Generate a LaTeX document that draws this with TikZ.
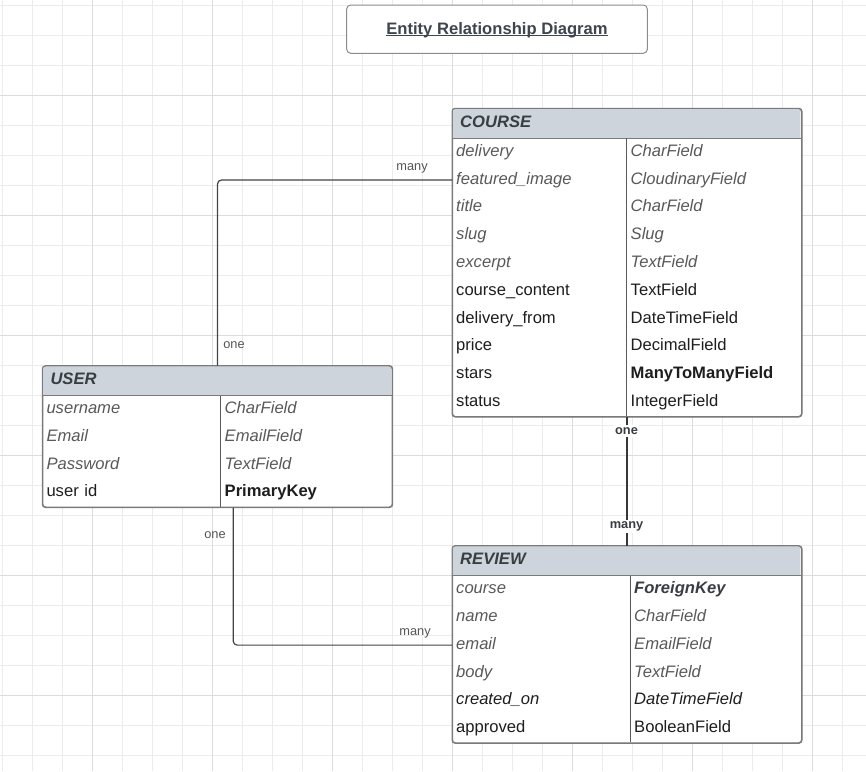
\documentclass[tikz,border=0pt]{standalone}
\usepackage{fontspec}
\setmainfont{Liberation Sans}
\usetikzlibrary{calc}
\definecolor{gridminor}{HTML}{ECECEC}
\definecolor{gridmajor}{HTML}{DCDCDC}
\definecolor{tblborder}{HTML}{7A7A7A}
\definecolor{divline}{HTML}{5A5A5A}
\definecolor{hdrfill}{HTML}{CED4DB}
\definecolor{hdrtext}{HTML}{393D44}
\definecolor{graytext}{HTML}{595959}
\definecolor{blacktext}{HTML}{1E1E1E}
\definecolor{conncol}{HTML}{444444}
\definecolor{lblgray}{HTML}{555555}
\definecolor{titlecol}{HTML}{3F454E}
\definecolor{titleborder}{HTML}{8C8C8C}
\tikzset{
  gminor/.style={draw=gridminor, line width=0.9pt},
  gmajor/.style={draw=gridmajor, line width=0.9pt},
  tbl/.style={draw=tblborder, fill=white, line width=1pt, rounded corners=3pt, anchor=north west, inner sep=0pt},
  cell/.style={anchor=west, inner xsep=4pt, inner ysep=0pt, minimum height=27.7pt, text height=12pt, text depth=3.5pt, align=left, font=\fontsize{16.6}{18}\selectfont},
  hcell/.style={cell, inner xsep=8pt, font=\fontsize{16.6}{18}\selectfont\bfseries\itshape, text=hdrtext},
  it/.style={font=\fontsize{16.6}{18}\selectfont\itshape, text=graytext},
  itb/.style={font=\fontsize{16.6}{18}\selectfont\itshape, text=blacktext},
  rg/.style={font=\fontsize{16.6}{18}\selectfont, text=blacktext},
  bd/.style={font=\fontsize{16.6}{18}\selectfont\bfseries, text=blacktext},
  bdit/.style={font=\fontsize{16.6}{18}\selectfont\bfseries\itshape, text=hdrtext},
  conn/.style={draw=conncol, line width=1.2pt, rounded corners=4pt},
  connbold/.style={draw=conncol!80!black, line width=2pt},
  lbl/.style={font=\fontsize{12.8}{14}\selectfont, text=lblgray, inner sep=0pt},
  lblb/.style={font=\fontsize{12.8}{14}\selectfont\bfseries, text=hdrtext, fill=white, inner xsep=1pt, inner ysep=2pt},
  titlebox/.style={draw=titleborder, line width=1pt, rounded corners=4pt, fill=white, minimum width=300.6pt, minimum height=48.3pt, inner sep=0pt},
  titletext/.style={font=\fontsize{16.6}{18}\selectfont\bfseries, text=titlecol, inner sep=0pt, anchor=base},
}
\begin{document}
\begin{tikzpicture}[x=1pt,y=-1pt]
\fill[white] (0,0) rectangle (866,771);
\useasboundingbox (0,0) rectangle (866,771);
% grid
\foreach \gx in {2.5,32.5,...,862.5} \draw[gminor] (\gx,0) -- (\gx,771);
\foreach \gy in {5,35,...,770} \draw[gminor] (0,\gy) -- (866,\gy);
\foreach \gx in {92.5,212.5,...,862.5} \draw[gmajor] (\gx,0) -- (\gx,771);
\foreach \gy in {95,215,...,770} \draw[gmajor] (0,\gy) -- (866,\gy);

% title
\node[titlebox] (titlebox) at (497,29.15) {};
\node[titletext] (title) at (497,34) {Entity Relationship Diagram};
\draw[titlecol, line width=1.2pt] ([yshift=-1.6pt]title.base west) -- ([yshift=-1.6pt]title.base east);

% ---------------- COURSE ----------------
\node[tbl, minimum width=349pt, minimum height=307.7pt] (course) at (452,108.3) {};
\fill[hdrfill] (452.6,138.3) [rounded corners=2.5pt] -- (452.6,108.9) -- (800.4,108.9) [sharp corners] -- (800.4,138.3) -- cycle;
\draw[tblborder, line width=1pt] (452,138.3) -- (801,138.3);
\draw[divline, line width=1pt] (626.5,138.3) -- (626.5,416);
\draw[tblborder, line width=1pt, rounded corners=3pt] (course.north west) rectangle (course.south east);
\node[hcell, text width=333pt] (course-h) at (452,123.3) {COURSE};
\foreach \n/\yy/\st/\a/\b/\stb in {
  1/152.2/it/delivery/CharField/it,
  2/180.0/it/featured\_image/CloudinaryField/it,
  3/207.7/it/title/CharField/it,
  4/235.5/it/slug/Slug/it,
  5/263.3/it/excerpt/TextField/it,
  6/291.1/rg/course\_content/TextField/rg,
  7/318.8/rg/delivery\_from/DateTimeField/rg,
  8/346.6/rg/price/DecimalField/rg,
  9/374.4/rg/stars/ManyToManyField/bd,
  10/402.1/rg/status/IntegerField/rg}{
  \node[cell, \st, text width=166.5pt] (course-l\n) at (452,\yy) {\a};
  \node[cell, \stb, text width=166.5pt] (course-r\n) at (626.5,\yy) {\b};
}

% ---------------- USER ----------------
\node[tbl, minimum width=349.4pt, minimum height=140.8pt] (user) at (42.3,365.7) {};
\fill[hdrfill] (42.9,395.7) [rounded corners=2.5pt] -- (42.9,366.3) -- (391.1,366.3) [sharp corners] -- (391.1,395.7) -- cycle;
\draw[tblborder, line width=1pt] (42.3,395.7) -- (391.7,395.7);
\draw[divline, line width=1pt] (220.5,395.7) -- (220.5,506.5);
\draw[tblborder, line width=1pt, rounded corners=3pt] (user.north west) rectangle (user.south east);
\node[hcell, text width=333.4pt] (user-h) at (42.3,380.7) {USER};
\foreach \n/\yy/\st/\a/\b/\stb in {
  1/409.55/it/username/CharField/it,
  2/437.25/it/Email/EmailField/it,
  3/464.95/it/Password/TextField/it,
  4/492.65/rg/user id/PrimaryKey/bd}{
  \node[cell, \st, text width=170.2pt] (user-l\n) at (42.3,\yy) {\a};
  \node[cell, \stb, text width=163.2pt] (user-r\n) at (220.5,\yy) {\b};
}

% ---------------- REVIEW ----------------
\node[tbl, minimum width=349pt, minimum height=196.6pt] (review) at (452,545.7) {};
\fill[hdrfill] (452.6,575.7) [rounded corners=2.5pt] -- (452.6,546.3) -- (800.4,546.3) [sharp corners] -- (800.4,575.7) -- cycle;
\draw[tblborder, line width=1pt] (452,575.7) -- (801,575.7);
\draw[divline, line width=1pt] (630,575.7) -- (630,742.3);
\draw[tblborder, line width=1pt, rounded corners=3pt] (review.north west) rectangle (review.south east);
\node[hcell, text width=333pt] (review-h) at (452,560.7) {REVIEW};
\foreach \n/\yy/\st/\a/\b/\stb in {
  1/589.6/it/course/ForeignKey/bdit,
  2/617.3/it/name/CharField/it,
  3/645.1/it/email/EmailField/it,
  4/672.9/it/body/TextField/it,
  5/700.7/itb/created\_on/DateTimeField/itb,
  6/728.4/rg/approved/BooleanField/rg}{
  \node[cell, \st, text width=170pt] (review-l\n) at (452,\yy) {\a};
  \node[cell, \stb, text width=163pt] (review-r\n) at (630,\yy) {\b};
}

% ---------------- connectors ----------------
\draw[conn] (user.north) |- (course-l2.west);
\node[lbl] (lbl-many1) at (412,168) {many};
\node[lbl] (lbl-one1) at (234,345) {one};

\coordinate (userout) at ($(user.south)+(15.7,0)$);
\draw[conn] (userout) |- (review-l3.west);
\node[lbl] (lbl-one3) at (215,535) {one};
\node[lbl] (lbl-many3) at (415,633) {many};

\draw[connbold] (course.south) -- (review.north);
\node[lblb] (lbl-one2) at (626.5,431) {one};
\node[lblb] (lbl-many2) at (626.5,526.5) {many};
\end{tikzpicture}
\end{document}
